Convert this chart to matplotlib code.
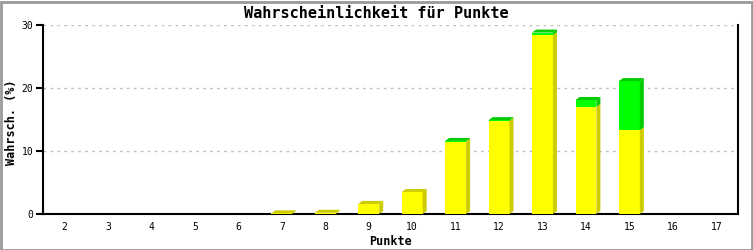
import matplotlib.pyplot as plt
from matplotlib.patches import Polygon, Rectangle
import numpy as np

# points and probability (%) split into two stacked parts
punkte = [2, 3, 4, 5, 6, 7, 8, 9, 10, 11, 12, 13, 14, 15, 16, 17]
gelb = [0, 0, 0, 0, 0, 0.1, 0.2, 1.6, 3.5, 11.5, 14.8, 28.4, 17.0, 13.3, 0, 0]
gruen = [0, 0, 0, 0, 0, 0, 0, 0, 0, 0.1, 0.1, 0.4, 1.1, 7.8, 0, 0]

W, H = 753, 250
fig = plt.figure(figsize=(W / 100, H / 100), dpi=100)
fig.patch.set_facecolor('white')

# gray frame round the picture
fig.add_artist(Rectangle((0.5 / W, 0.5 / H), 1 - 2 / W, 1 - 2 / H, transform=fig.transFigure,
                         fill=False, edgecolor='#999999', linewidth=2))

x0, x1, y0, y1 = 43, 738, 25, 214
ax = fig.add_axes([x0 / W, 1 - y1 / H, (x1 - x0) / W, (y1 - y0) / H])
ax.set_xlim(1.5, 17.5)
ax.set_ylim(0, 30)

# 3d depth in data units
px_x = (x1 - x0) / 16.0
px_y = (y1 - y0) / 30.0
dx = 4 / px_x
dy = 3 / px_y
bw = 0.48

def box(x, bottom, h, front, dark):
    l = x - bw / 2
    r = x + bw / 2
    ax.add_patch(Rectangle((l, bottom), bw, h, facecolor=front, edgecolor='none', zorder=3))
    ax.add_patch(Polygon([(r, bottom), (r + dx, bottom + dy), (r + dx, bottom + h + dy), (r, bottom + h)],
                         facecolor=dark, edgecolor='none', zorder=3))

for x, g, gr in zip(punkte, gelb, gruen):
    if g + gr <= 0:
        continue
    box(x, 0, g, '#ffff00', '#cccc00')
    top_dark = '#cccc00'
    if gr > 0:
        box(x, g, gr, '#00ff00', '#00cc00')
        top_dark = '#00cc00'
    t = g + gr
    l = x - bw / 2
    r = x + bw / 2
    ax.add_patch(Polygon([(l, t), (l + dx, t + dy), (r + dx, t + dy), (r, t)],
                         facecolor=top_dark, edgecolor='none', zorder=3))

ax.set_yticks([0, 10, 20, 30])
ax.set_xticks(punkte)
ax.set_xticklabels([str(p) for p in punkte])
for y in [10, 20, 30]:
    ax.axhline(y, color='#c0c0c0', linestyle=(0, (2, 3)), linewidth=1, zorder=1)

ax.spines['top'].set_visible(False)
ax.spines['left'].set_linewidth(1.5)
ax.spines['bottom'].set_linewidth(1.5)
ax.spines['right'].set_linewidth(1.5)
ax.tick_params(axis='x', length=0, pad=6, labelsize=7)
ax.tick_params(axis='y', length=5, width=1.5, pad=2, labelsize=7)
for lab in ax.get_xticklabels() + ax.get_yticklabels():
    lab.set_family('DejaVu Sans Mono')

ax.set_xlabel('Punkte', family='DejaVu Sans Mono', fontweight='bold', fontsize=8.5, labelpad=2)
fig.text(12 / W, 1 - 122 / H, 'Wahrsch. (%)', rotation=90, ha='center', va='center',
         family='DejaVu Sans Mono', fontweight='bold', fontsize=8.5)
fig.text(0.5, 1 - 13 / H, 'Wahrscheinlichkeit für Punkte', ha='center', va='center',
         family='DejaVu Sans Mono', fontweight='bold', fontsize=11)

fig.savefig('out.png', dpi=100)
